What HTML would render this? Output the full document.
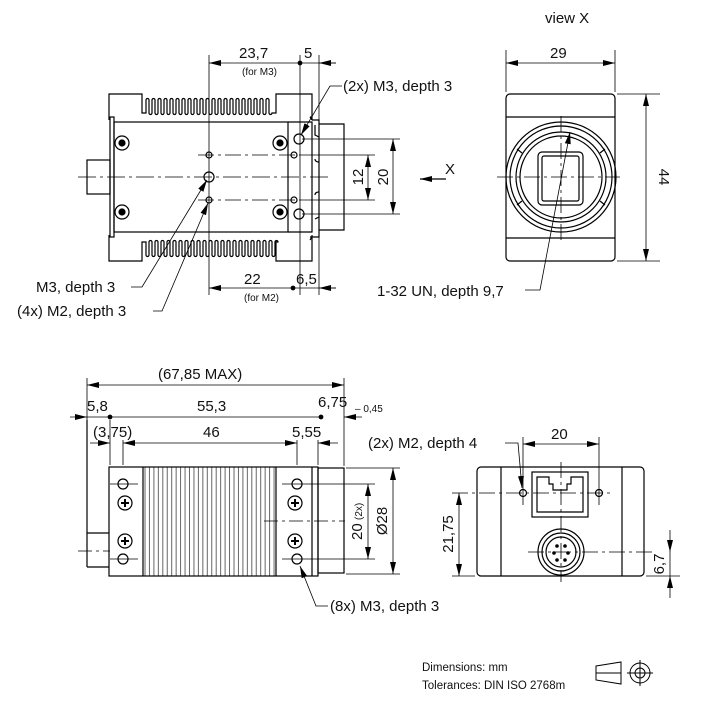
<!DOCTYPE html>
<html><head><meta charset="utf-8"><style>
html,body{margin:0;padding:0;background:#fff;}
svg{display:block;}
text{font-family:"Liberation Sans","DejaVu Sans",sans-serif;fill:#111;font-size:15px;}
.s{font-size:10px;}
</style></head><body>
<svg width="701" height="726" viewBox="0 0 701 726" xmlns="http://www.w3.org/2000/svg">
<defs>
<marker id="a" viewBox="0 0 12 6" refX="12" refY="3" markerWidth="12" markerHeight="6" markerUnits="userSpaceOnUse" orient="auto-start-reverse"><path d="M0,0L12,3L0,6z" fill="#000"/></marker>
<pattern id="rib" x="143" y="0" width="4.45" height="10" patternUnits="userSpaceOnUse"><line x1="2" y1="0" x2="2" y2="10" stroke="#000" stroke-width="0.6"/></pattern>
</defs>
<g fill="none" stroke="#000" stroke-width="1.2">
<!-- ===== TOP VIEW ===== -->
<path d="M109,120 V94 H142 V113 H146 v-13 a1.5,1.5 0 0 1 3,0 v13 a1.5,1.5 0 0 0 3,0 v-13 a1.5,1.5 0 0 1 3,0 v13 a1.5,1.5 0 0 0 3,0 v-13 a1.5,1.5 0 0 1 3,0 v13 a1.5,1.5 0 0 0 3,0 v-13 a1.5,1.5 0 0 1 3,0 v13 a1.5,1.5 0 0 0 3,0 v-13 a1.5,1.5 0 0 1 3,0 v13 a1.5,1.5 0 0 0 3,0 v-13 a1.5,1.5 0 0 1 3,0 v13 a1.5,1.5 0 0 0 3,0 v-13 a1.5,1.5 0 0 1 3,0 v13 a1.5,1.5 0 0 0 3,0 v-13 a1.5,1.5 0 0 1 3,0 v13 a1.5,1.5 0 0 0 3,0 v-13 a1.5,1.5 0 0 1 3,0 v13 a1.5,1.5 0 0 0 3,0 v-13 a1.5,1.5 0 0 1 3,0 v13 a1.5,1.5 0 0 0 3,0 v-13 a1.5,1.5 0 0 1 3,0 v13 a1.5,1.5 0 0 0 3,0 v-13 a1.5,1.5 0 0 1 3,0 v13 a1.5,1.5 0 0 0 3,0 v-13 a1.5,1.5 0 0 1 3,0 v13 a1.5,1.5 0 0 0 3,0 v-13 a1.5,1.5 0 0 1 3,0 v13 a1.5,1.5 0 0 0 3,0 v-13 a1.5,1.5 0 0 1 3,0 v13 a1.5,1.5 0 0 0 3,0 v-13 a1.5,1.5 0 0 1 3,0 v13 a1.5,1.5 0 0 0 3,0 v-13 a1.5,1.5 0 0 1 3,0 v13 a1.5,1.5 0 0 0 3,0 v-13 a1.5,1.5 0 0 1 3,0 v13 a1.5,1.5 0 0 0 3,0 v-13 a1.5,1.5 0 0 1 3,0 v13 a1.5,1.5 0 0 0 3,0 v-13 a1.5,1.5 0 0 1 3,0 v13 a1.5,1.5 0 0 0 3,0 v-13 a1.5,1.5 0 0 1 3,0 v13 a1.5,1.5 0 0 0 3,0 H276 V94 H312 V120"/>
<path transform="translate(0,355) scale(1,-1)" d="M109,120 V94 H142 V113 H146 v-13 a1.5,1.5 0 0 1 3,0 v13 a1.5,1.5 0 0 0 3,0 v-13 a1.5,1.5 0 0 1 3,0 v13 a1.5,1.5 0 0 0 3,0 v-13 a1.5,1.5 0 0 1 3,0 v13 a1.5,1.5 0 0 0 3,0 v-13 a1.5,1.5 0 0 1 3,0 v13 a1.5,1.5 0 0 0 3,0 v-13 a1.5,1.5 0 0 1 3,0 v13 a1.5,1.5 0 0 0 3,0 v-13 a1.5,1.5 0 0 1 3,0 v13 a1.5,1.5 0 0 0 3,0 v-13 a1.5,1.5 0 0 1 3,0 v13 a1.5,1.5 0 0 0 3,0 v-13 a1.5,1.5 0 0 1 3,0 v13 a1.5,1.5 0 0 0 3,0 v-13 a1.5,1.5 0 0 1 3,0 v13 a1.5,1.5 0 0 0 3,0 v-13 a1.5,1.5 0 0 1 3,0 v13 a1.5,1.5 0 0 0 3,0 v-13 a1.5,1.5 0 0 1 3,0 v13 a1.5,1.5 0 0 0 3,0 v-13 a1.5,1.5 0 0 1 3,0 v13 a1.5,1.5 0 0 0 3,0 v-13 a1.5,1.5 0 0 1 3,0 v13 a1.5,1.5 0 0 0 3,0 v-13 a1.5,1.5 0 0 1 3,0 v13 a1.5,1.5 0 0 0 3,0 v-13 a1.5,1.5 0 0 1 3,0 v13 a1.5,1.5 0 0 0 3,0 v-13 a1.5,1.5 0 0 1 3,0 v13 a1.5,1.5 0 0 0 3,0 v-13 a1.5,1.5 0 0 1 3,0 v13 a1.5,1.5 0 0 0 3,0 v-13 a1.5,1.5 0 0 1 3,0 v13 a1.5,1.5 0 0 0 3,0 v-13 a1.5,1.5 0 0 1 3,0 v13 a1.5,1.5 0 0 0 3,0 v-13 a1.5,1.5 0 0 1 3,0 v13 a1.5,1.5 0 0 0 3,0 v-13 a1.5,1.5 0 0 1 3,0 v13 a1.5,1.5 0 0 0 3,0 v-13 a1.5,1.5 0 0 1 3,0 v13 a1.5,1.5 0 0 0 3,0 H276 V94 H312 V120"/>
<rect x="110" y="117" width="4" height="120"/>
<rect x="114" y="122" width="174" height="110"/>
<path d="M288,122 H312 V232 H288"/>
<path d="M310,117 H312 M310,237 H312"/>
<path d="M312,120 H319 V237 H312 M319,124 H344 V230 H319"/>
<path d="M312,120 l-2,-3 M312,237 l-2,3"/>
<path d="M319,137 l-4,-2 v-10 M319,162 q-4,0 -4,-3 M319,192 q-4,0 -4,3 M319,217 l-4,2"/>
<rect x="87" y="160" width="23" height="34"/>
<circle cx="122" cy="143" r="7"/><circle cx="122" cy="143" r="3" fill="#000"/>
<circle cx="122" cy="212" r="7"/><circle cx="122" cy="212" r="3" fill="#000"/>
<circle cx="280" cy="143" r="7"/><circle cx="280" cy="143" r="3" fill="#000"/>
<circle cx="280" cy="212" r="7"/><circle cx="280" cy="212" r="3" fill="#000"/>
<circle cx="209" cy="177" r="5"/><circle cx="209" cy="155" r="3"/><circle cx="209" cy="200" r="3"/>
<circle cx="294" cy="155" r="3"/><circle cx="294" cy="200" r="3"/>
<circle cx="299" cy="139" r="5"/><circle cx="299" cy="214" r="5"/>
</g>
<g fill="none" stroke="#000" stroke-width="0.8">
<path d="M78,177 H330" stroke-dasharray="18,4,3,4"/>
<path d="M198,155 H300 M198,200 H300" stroke-dasharray="16,4,3,4"/>
<path d="M209,55 V295 M300,55 V295 M319,55 V295"/>
<path d="M302,139 H400 M302,214 H400 M300,155 H375 M300,200 H375"/>
<path d="M209,63 H300" marker-start="url(#a)"/>
<path d="M300,63 H336 M336,63 H319" /><path d="M336,63 H319" marker-end="url(#a)"/>
<circle cx="300" cy="63" r="2" fill="#000"/>
<path d="M209,288 H293" marker-start="url(#a)"/>
<path d="M293,288 H336"/><path d="M336,288 H319" marker-end="url(#a)"/>
<circle cx="293" cy="288" r="2" fill="#000"/>
<path d="M368,155 V200" marker-start="url(#a)" marker-end="url(#a)"/>
<path d="M393,139 V214" marker-start="url(#a)" marker-end="url(#a)"/>
<path d="M446,179 H420" marker-end="url(#a)" stroke-width="1.2"/>
<path d="M342,86 H330 L301,135" marker-end="url(#a)"/>
<path d="M131,287 H142 L207,180" marker-end="url(#a)"/>
<path d="M153,311 H162 L208,203" marker-end="url(#a)"/>
</g>
<text x="239" y="58">23,7</text>
<text x="242" y="75" class="s">(for M3)</text>
<text x="304" y="58">5</text>
<text x="343" y="91">(2x) M3, depth 3</text>
<text x="244" y="284">22</text>
<text x="244" y="301" class="s">(for M2)</text>
<text x="296" y="284">6,5</text>
<text x="36" y="292">M3, depth 3</text>
<text x="17" y="316">(4x) M2, depth 3</text>
<text transform="translate(366,177) rotate(-90)" text-anchor="middle" dy="-3">12</text>
<text transform="translate(391,177) rotate(-90)" text-anchor="middle" dy="-3">20</text>
<text x="445" y="174">X</text>

<!-- ===== VIEW X ===== -->
<g fill="none" stroke="#000" stroke-width="1.2">
<rect x="506" y="94" width="109" height="167" rx="4"/>
<path d="M506,117 H615 M506,238 H615"/>
<circle cx="561" cy="177" r="55"/><circle cx="561" cy="177" r="51"/>
<circle cx="561" cy="177" r="45"/><circle cx="561" cy="177" r="41"/>
<rect x="538" y="152" width="45" height="53" rx="4"/>
<rect x="542" y="156" width="37" height="45" rx="2"/>
<path d="M522,153 l-5,-4 M522,201 l-5,4 M600,153 l5,-4 M600,201 l5,4"/>
</g>
<g fill="none" stroke="#000" stroke-width="0.8">
<path d="M497,177 H620 M561,116 V240" stroke-dasharray="16,4,3,4"/>
<path d="M506,50 V92 M615,50 V92"/>
<path d="M506,63 H615" marker-start="url(#a)" marker-end="url(#a)"/>
<path d="M617,94 H660 M617,261 H660"/>
<path d="M646,94 V261" marker-start="url(#a)" marker-end="url(#a)"/>
<path d="M525,290 H540 L570,132" marker-end="url(#a)"/>
</g>
<text x="545" y="23">view X</text>
<text x="550" y="58">29</text>
<text transform="translate(658,177) rotate(90)" text-anchor="middle" dy="-1">44</text>
<text x="377" y="296">1-32 UN, depth 9,7</text>

<!-- ===== SIDE VIEW ===== -->
<g fill="none" stroke="#000" stroke-width="1.2">
<rect x="143" y="467" width="133" height="109" fill="url(#rib)" stroke="none"/>
<rect x="109" y="467" width="209" height="109"/>
<path d="M143,467 V576 M276,467 V576 M312,467 V576"/>
<rect x="318" y="468" width="26" height="105"/>
<path d="M87,533 H109 M87,567 H109"/>
<path d="M87,420 V567"/>
<circle cx="123" cy="484" r="5"/><circle cx="123" cy="559" r="5"/>
<circle cx="297" cy="484" r="5"/><circle cx="297" cy="559" r="5"/>
<circle cx="125" cy="503" r="7"/><circle cx="125" cy="541" r="7"/>
<circle cx="295" cy="503" r="7"/><circle cx="295" cy="541" r="7"/>
</g>
<g stroke="#000" stroke-width="2" fill="none">
<path d="M125,499 v8 M121,503 h8 M125,537 v8 M121,541 h8 M295,499 v8 M291,503 h8 M295,537 v8 M291,541 h8"/>
</g>
<g fill="none" stroke="#000" stroke-width="0.8">
<path d="M78,551 H110 M264,521 H345" stroke-dasharray="14,4,3,4"/>
<path d="M110,484 H138 M110,559 H138 M282,484 H375 M282,559 H375 M346,468 H400 M346,574 H400"/>
<path d="M87,378 V420 M344,378 V466"/>
<path d="M110,420 V465 M123,440 V465 M297,440 V465 M318,440 V465"/>
<path d="M87,385 H344" marker-start="url(#a)" marker-end="url(#a)"/>
<path d="M70,417 H87" marker-end="url(#a)"/>
<path d="M87,417 H321"/>
<path d="M362,417 H344" marker-end="url(#a)"/>
<circle cx="110" cy="417" r="2" fill="#000"/><circle cx="321" cy="417" r="2" fill="#000"/>
<path d="M90,443 H110" marker-end="url(#a)"/>
<path d="M123,443 H297" marker-start="url(#a)" marker-end="url(#a)"/>
<path d="M338,443 H318" marker-end="url(#a)"/>
<path d="M368,484 V559" marker-start="url(#a)" marker-end="url(#a)"/>
<path d="M393,468 V574" marker-start="url(#a)" marker-end="url(#a)"/>
<path d="M328,606 H316 L300,566" marker-end="url(#a)"/>
</g>
<text x="158" y="379">(67,85 MAX)</text>
<text x="87" y="411">5,8</text>
<text x="197" y="411">55,3</text>
<text x="318" y="407">6,75</text>
<text x="355" y="412" class="s">– 0,45</text>
<text x="93" y="437">(3,75)</text>
<text x="203" y="437">46</text>
<text x="292" y="437">5,55</text>
<text transform="translate(364,540) rotate(-90)" dy="-2">20</text>
<text transform="translate(364,520) rotate(-90)" class="s" dy="-2">(2x)</text>
<text transform="translate(390,521) rotate(-90)" text-anchor="middle" dy="-3">Ø28</text>
<text x="330" y="611">(8x) M3, depth 3</text>

<!-- ===== BACK VIEW ===== -->
<g fill="none" stroke="#000" stroke-width="1.2">
<rect x="477" y="467" width="167" height="109" rx="4"/>
<path d="M501,467 V576 M622,467 V576"/>
<rect x="532" y="472" width="56" height="45"/>
<path d="M537,477 V512 H583 V477 H571 V484 H567 V490 H553 V484 H549 V477 Z" />
<circle cx="523" cy="493" r="3.5"/><circle cx="599" cy="493" r="3.5"/>
<circle cx="561" cy="552" r="23"/><circle cx="561" cy="552" r="19"/><circle cx="561" cy="552" r="15"/>
</g>
<g fill="#000">
<circle cx="557" cy="546" r="1.8"/><circle cx="565" cy="546" r="1.8"/>
<circle cx="554" cy="553" r="1.8"/><circle cx="568" cy="553" r="1.8"/>
<circle cx="557" cy="560" r="1.8"/><circle cx="565" cy="560" r="1.8"/>
</g>
<g fill="none" stroke="#000" stroke-width="0.8">
<path d="M452,493 H610 M528,552 H655 M561,462 V582" stroke-dasharray="16,4,3,4"/>
<path d="M523,437 V505 M599,437 V505"/>
<path d="M523,444 H599" marker-start="url(#a)" marker-end="url(#a)"/>
<path d="M452,576 H475 M646,576 H680"/>
<path d="M459,493 V576" marker-start="url(#a)" marker-end="url(#a)"/>
<path d="M670,530 V552" marker-end="url(#a)"/>
<path d="M670,552 V576"/>
<path d="M670,598 V576" marker-end="url(#a)"/>
<path d="M505,443 H518 L522,488" marker-end="url(#a)"/>
</g>
<text x="551" y="439">20</text>
<text x="368" y="448">(2x) M2, depth 4</text>
<text transform="translate(456,534) rotate(-90)" text-anchor="middle" dy="-3">21,75</text>
<text transform="translate(667,564) rotate(-90)" text-anchor="middle" dy="-3">6,7</text>

<!-- legend -->
<text x="422" y="671" style="font-size:11.5px">Dimensions: mm</text>
<text x="422" y="689" style="font-size:11.5px">Tolerances: DIN ISO 2768m</text>
<g fill="none" stroke="#000" stroke-width="1">
<path d="M596,666 L621,662 V684 L596,680 Z M596,673 H621"/>
<circle cx="640" cy="673" r="10"/><circle cx="640" cy="673" r="5"/>
<path d="M627,673 H653 M640,660 V686"/>
</g>
</svg>
</body></html>
